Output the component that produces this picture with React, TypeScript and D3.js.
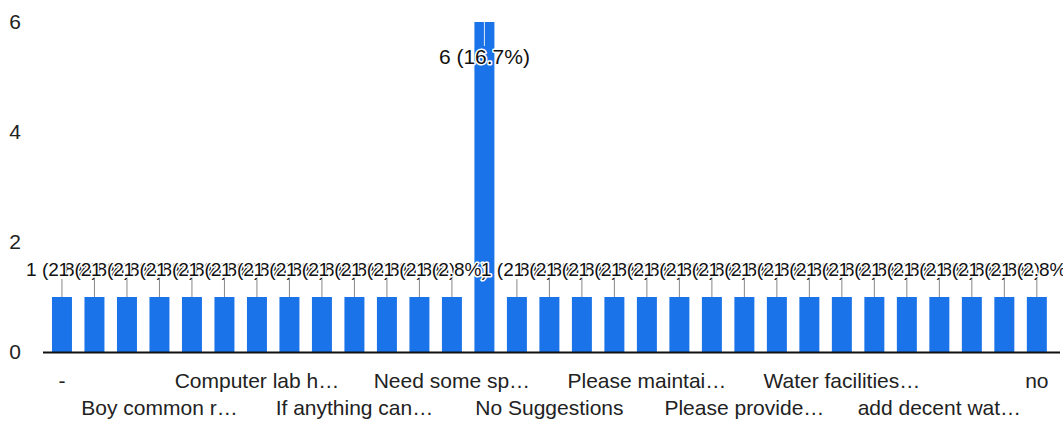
import React from "react";
import * as d3 from "d3";

const categories: string[] = [
  "-", "All good", "Better toilets", "Boy common r…", "Canteen food", "Clean classrooms",
  "Computer lab h…", "Good", "Hostel facilities", "If anything can…", "Improve sports",
  "Library timing", "Need some sp…", "Nil", "No", "No Suggestions", "Nothing",
  "Parking space", "Please maintai…", "Please make", "Please organise", "Please provide…",
  "Provide more", "Sports equipment", "Water facilities…", "Wifi facility", "Working hours",
  "add decent wat…", "good", "improve canteen", "no",
];
const counts: number[] = [
  1, 1, 1, 1, 1, 1, 1, 1, 1, 1, 1, 1, 1, 6, 1, 1, 1,
  1, 1, 1, 1, 1, 1, 1, 1, 1, 1, 1, 1, 1, 1,
];
const yTicks: number[] = [0, 2, 4, 6];

const W = 1063;
const H = 427;
const FONT = "'Liberation Sans', Arial, sans-serif";
const BLUE = "#1a73e8";

export default function App() {
  const total = d3.sum(counts);
  const x = d3
    .scaleBand<string>()
    .domain(categories)
    .range([45.8, 1053])
    .paddingInner(0.385)
    .paddingOuter(0.19);
  const y = d3.scaleLinear().domain([0, 6]).range([352, 22]);
  const bw = x.bandwidth();
  const fmt = (v: number) => `${v} (${((v / total) * 100).toFixed(1)}%)`;

  return (
    <svg
      width={W}
      height={H}
      style={{ position: "absolute", left: 0, top: 0, background: "#fff" }}
      fontFamily={FONT}
    >
      <rect x={0} y={0} width={W} height={H} fill="#fff" />
      {yTicks.map((t) => (
        <text key={t} x={21} y={y(t) + 7} fontSize={21} textAnchor="end" fill="#222">
          {t}
        </text>
      ))}
      {categories.map((c, i) => (
        <rect key={c} x={x(c)!} y={y(counts[i])} width={bw} height={y(0) - y(counts[i])} fill={BLUE} />
      ))}
      <line x1={43} x2={1060} y1={y(0) + 0.5} y2={y(0) + 0.5} stroke="#111" strokeWidth={2} />
      {categories.map((c, i) => {
        const cx = x(c)! + bw / 2;
        const v = counts[i];
        if (y(v) < 100) {
          return (
            <g key={c}>
              <line x1={cx} x2={cx} y1={y(v)} y2={46} stroke="#dfe8f5" strokeWidth={1} />
              <text
                x={cx}
                y={64}
                fontSize={21}
                textAnchor="middle"
                fill="#111"
                stroke="#fff"
                strokeWidth={3}
                paintOrder="stroke"
                strokeLinejoin="round"
              >
                {fmt(v)}
              </text>
            </g>
          );
        }
        return (
          <g key={c}>
            <line x1={cx} x2={cx} y1={y(v)} y2={y(v) - 18} stroke="#888" strokeWidth={1} />
            <text
              x={cx}
              y={y(v) - 21}
              fontSize={19}
              textAnchor="middle"
              fill="#111"
              stroke="#fff"
              strokeWidth={3}
              paintOrder="stroke"
              strokeLinejoin="round"
            >
              {fmt(v)}
            </text>
          </g>
        );
      })}
      {categories.map((c, i) => {
        if (i % 3 !== 0) return null;
        const row = (i / 3) % 2;
        const cx = x(c)! + bw / 2;
        return (
          <text key={"l" + c} x={cx} y={row === 0 ? 388 : 415} fontSize={21} textAnchor="middle" fill="#222">
            {c}
          </text>
        );
      })}
    </svg>
  );
}
